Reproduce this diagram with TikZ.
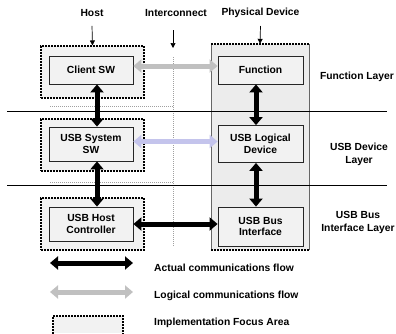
\documentclass[tikz,border=0pt]{standalone}
\usepackage{fontspec}
\setmainfont{Liberation Sans}
\usetikzlibrary{arrows.meta}
\definecolor{boxfill}{HTML}{F2F2F2}
\definecolor{devfill}{HTML}{ECECEC}
\definecolor{logarrow}{HTML}{C0C0C0}
\definecolor{purparrow}{HTML}{C4C4EC}
\definecolor{dotgray}{HTML}{A0A0A0}
\tikzset{
  lbl/.style={font=\bfseries\fontsize{10.3}{13}\selectfont, align=center, inner sep=0pt},
  inner/.style={draw=black!85, fill=boxfill, line width=0.8pt, align=center,
     font=\bfseries\fontsize{10.3}{11.5}\selectfont, inner sep=0pt},
  hostbox/.style={draw, fill=boxfill, line width=1.1pt, dash pattern=on 2pt off 1pt},
  bigarrow/.style={line width=5pt, {Triangle[length=8pt,width=13pt]}-{Triangle[length=8pt,width=13pt]}},
  thinarrow/.style={line width=0.7pt, -{Triangle[length=5pt,width=5pt]}},
  dotline/.style={draw=dotgray, line width=0.6pt, dash pattern=on 1pt off 1pt},
}
\begin{document}
\begin{tikzpicture}[x=1pt,y=-1pt]
\useasboundingbox (0,0) rectangle (396,333);
% device box
\fill[devfill] (211,44) rectangle (309,250);
\node[inner sep=0pt, minimum width=98pt, minimum height=206pt] (dev) at (260,147) {};
\draw[black!60, line width=0.8pt] (211,44) -- (211,250) (309,44) -- (309,250);
\draw[line width=1.1pt, dash pattern=on 2pt off 1pt] (211,44) -- (309,44) (211,250) -- (309,250);
% host boxes
\node[hostbox, minimum width=103pt, minimum height=52pt, inner sep=0pt] (hb1) at (92.5,72) {};
\node[hostbox, minimum width=103pt, minimum height=52pt, inner sep=0pt] (hb2) at (92.5,145) {};
\node[hostbox, minimum width=103pt, minimum height=52pt, inner sep=0pt] (hb3) at (92.5,224) {};
% interconnect dotted lines
\draw[dotline] (173,57) -- (173,247);
\draw[dotline] (50,106) -- (173,106);
\draw[dotline] (50,182) -- (173,182);
% layer lines
\draw[line width=0.6pt] (7,111) -- (387,111);
\draw[line width=0.6pt] (7,185) -- (387,185);
% inner boxes
\node[inner, minimum width=84pt, minimum height=28pt] (client) at (91,70) {Client SW};
\node[inner, minimum width=84pt, minimum height=34pt] (sys) at (91,144) {USB System\\SW};
\node[inner, minimum width=84pt, minimum height=34pt] (hostctl) at (91,224) {USB Host\\Controller};
\node[inner, minimum width=85pt, minimum height=28pt] (func) at (260.5,70) {Function};
\node[inner, minimum width=85pt, minimum height=37pt] (logdev) at (260.5,144) {USB Logical\\Device};
\node[inner, minimum width=85pt, minimum height=39pt] (busif) at (260.5,226.5) {USB Bus\\Interface};
% top labels
\node[lbl] (host) at (92,13) {Host};
\node[lbl] (inter) at (176,13) {Interconnect};
\node[lbl] (phys) at (260.5,13) {Physical Device};
\coordinate (icstart) at (173,30);
\coordinate (icend) at (173,48);
\draw[thinarrow] ([yshift=-9pt]host.south) -- (hb1.north);
\draw[thinarrow] (icstart) -- (icend);
\draw[thinarrow] ([yshift=-8pt]phys.south) -- (dev.north);
% layer labels
\node[lbl] (fl) at (357,77) {Function Layer};
\node[lbl] (dl) at (359,154) {USB Device\\Layer};
\node[lbl] (bl) at (358,222) {USB Bus\\Interface Layer};
% arrows
\draw[bigarrow] ([xshift=6pt]client.south) -- ([xshift=6pt]sys.north);
\draw[bigarrow] ([xshift=6pt]sys.south) -- ([xshift=6pt]hostctl.north);
\draw[bigarrow] ([xshift=-4.5pt]func.south) -- ([xshift=-4.5pt]logdev.north);
\draw[bigarrow] ([xshift=-4.5pt]logdev.south) -- ([xshift=-4.5pt]busif.north);
\draw[bigarrow, draw=logarrow] ([yshift=4pt]client.east) -- ([yshift=4pt]func.west);
\draw[bigarrow, draw=purparrow] ([yshift=2.5pt]sys.east) -- ([yshift=2.5pt]logdev.west);
\draw[bigarrow] (hostctl.east) -- (hostctl.east -| busif.west);
% legend
\coordinate (la1) at (50,263);
\coordinate (la2) at (133,263);
\coordinate (lb1) at (50,292);
\coordinate (lb2) at (133,292);
\draw[bigarrow] (la1) -- (la2);
\draw[bigarrow, draw=logarrow] (lb1) -- (lb2);
\fill[boxfill] (53,316) rectangle (123,333);
\draw[line width=1.1pt, dash pattern=on 2pt off 1pt] (53,334) -- (53,316) -- (123,316) -- (123,334);
\node[lbl, anchor=west] (t1) at (154,268) {Actual communications flow};
\node[lbl, anchor=west] (t2) at (154,296) {Logical communications flow};
\node[lbl, anchor=west] (t3) at (154,323) {Implementation Focus Area};
\end{tikzpicture}
\end{document}
